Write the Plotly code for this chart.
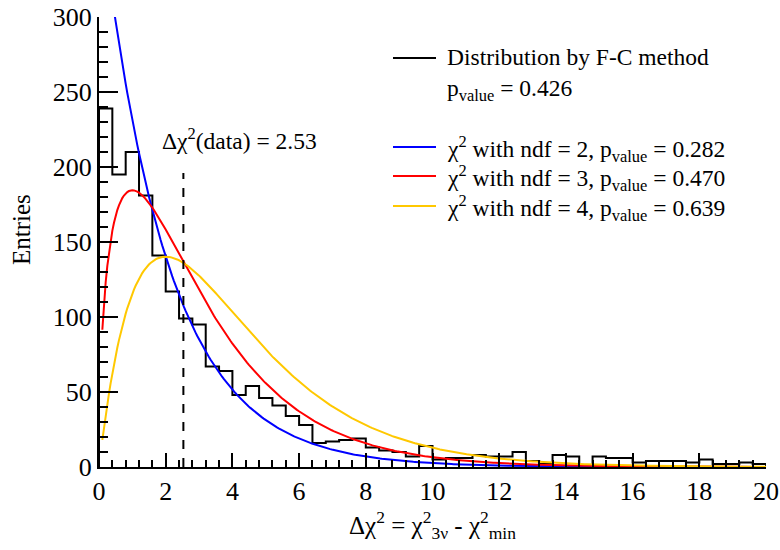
import numpy as np
import plotly.graph_objects as go
from math import gamma

# ---- data ----
bin_width = 0.4
bin_left_edges = [round(i * 0.4, 1) for i in range(50)]
fc_counts = [239, 195, 210, 181, 141, 117, 99, 95, 67, 64,
             48, 54, 46, 41, 34, 28, 16, 17, 18, 19,
             13, 11, 10, 7, 14, 5, 6, 6, 8, 7,
             7, 10, 4, 2, 8, 7, 1, 7, 6, 6,
             3, 4, 4, 4, 3, 5, 2, 2, 3, 2]
ndf_values = [2, 3, 4]
p_values = ["0.282", "0.470", "0.639"]
curve_colors = ["#0000ff", "#ff0000", "#ffc800"]
p_value_fc = "0.426"
delta_chi2_data = 2.53
dashed_top = 196
x_ticks = [0, 2, 4, 6, 8, 10, 12, 14, 16, 18, 20]
y_ticks = [0, 50, 100, 150, 200, 250, 300]

FONT = "Liberation Serif, Times New Roman, serif"
n_entries = sum(fc_counts)
norm = n_entries * bin_width

fig = go.Figure()

# histogram as step outline
hx = [0] + bin_left_edges + [20, 20]
hy = [0] + fc_counts + [fc_counts[-1], 0]
fig.add_trace(go.Scatter(x=hx, y=hy, mode="lines", line=dict(color="black", width=2, shape="hv"),
                         showlegend=False, hoverinfo="skip"))

# chi-square curves
xc = np.linspace(0.1, 20, 400)
for k, col in zip(ndf_values, curve_colors):
    pdf = xc ** (k / 2 - 1) * np.exp(-xc / 2) / (2 ** (k / 2) * gamma(k / 2))
    fig.add_trace(go.Scatter(x=xc, y=norm * pdf, mode="lines", line=dict(color=col, width=2),
                             showlegend=False, hoverinfo="skip"))

# dashed vertical line
fig.add_shape(type="line", x0=delta_chi2_data, x1=delta_chi2_data, y0=0, y1=dashed_top,
              xref="x", yref="y", line=dict(color="black", width=2, dash="dash"))

L, R, T, B = 99, 766, 17, 467
def px2paper(px, py):
    return (px - L) / (R - L), (B - py) / (B - T)

ann = []
def add_text(px, py, text, size, xanchor="center", angle=0):
    x, y = px2paper(px, py)
    ann.append(dict(x=x, y=y, xref="paper", yref="paper", showarrow=False, xanchor=xanchor,
                    yanchor="middle", textangle=angle, text=text,
                    font=dict(size=size, family=FONT, color="black")))

# label of dashed line
add_text(239, 139, "Δχ<sup>2</sup>(data) = 2.53", 23.5)

# legend
rows = [("black", 58, "Distribution by F-C method", 57)]
for k, p, col, py in zip(ndf_values, p_values, curve_colors, [147, 176, 206]):
    rows.append((col, py, f"χ<sup>2</sup> with ndf = {k}, p<sub>value</sub> = {p}", py + 2))
for col, py, txt, ty in rows:
    x0, y0 = px2paper(393, py)
    x1, _ = px2paper(436, py)
    fig.add_shape(type="line", x0=x0, x1=x1, y0=y0, y1=y0, xref="paper", yref="paper",
                  line=dict(color=col, width=2))
    add_text(445, ty, txt, 23.5, xanchor="left")
add_text(445, 90, f"p<sub>value</sub> = {p_value_fc}", 23.5, xanchor="left")

# axis titles
add_text(21, 230, "Entries", 25, angle=-90)
add_text(432, 525, "Δχ<sup>2</sup> = χ<sup>2</sup><sub>3ν</sub> - χ<sup>2</sup><sub>min</sub>", 25)

fig.update_layout(
    width=780, height=550,
    margin=dict(l=L, r=780 - R, t=T, b=550 - B, autoexpand=False),
    paper_bgcolor="white", plot_bgcolor="white",
    annotations=ann,
    font=dict(family=FONT, color="black"),
)
fig.update_xaxes(range=[0, 20], tickvals=x_ticks, ticks="inside", ticklen=14, tickwidth=2,
                 tickcolor="black", showline=True, linecolor="black", linewidth=2,
                 showgrid=False, zeroline=False, tickfont=dict(size=26, family=FONT), automargin=False,
                 minor=dict(ticks="inside", ticklen=7, tickwidth=2, dtick=0.4, tickcolor="black", showgrid=False))
fig.update_yaxes(range=[0, 300], tickvals=y_ticks, ticks="inside", ticklen=19, tickwidth=2,
                 tickcolor="black", showline=True, linecolor="black", linewidth=2,
                 showgrid=False, zeroline=False, tickfont=dict(size=26, family=FONT), automargin=False,
                 minor=dict(ticks="inside", ticklen=9, tickwidth=2, dtick=10, tickcolor="black", showgrid=False))

fig.write_html("out.html")
